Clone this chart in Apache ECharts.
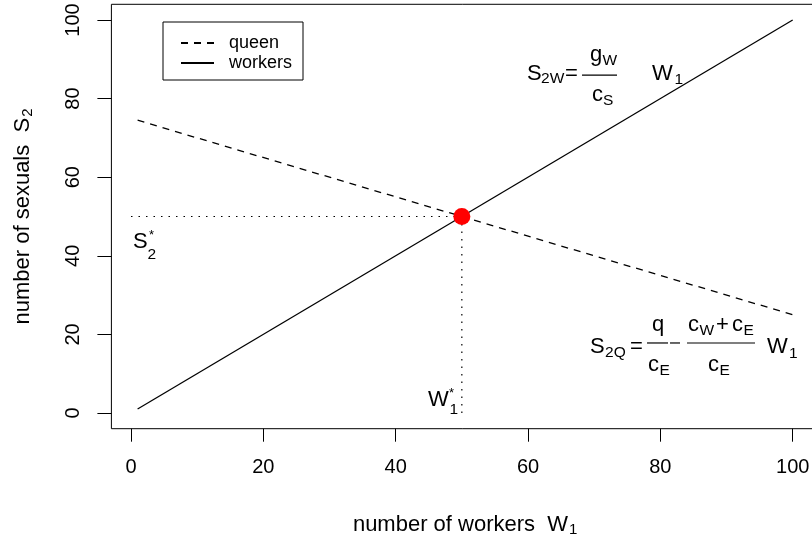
<!DOCTYPE html>
<html>
<head>
<meta charset="utf-8">
<script src="https://cdn.jsdelivr.net/npm/echarts@6/dist/echarts.min.js"></script>
<style>
  html, body { margin: 0; padding: 0; background: #ffffff; }
  #chart { width: 812px; height: 542px; }
</style>
</head>
<body>
<div id="chart"></div>
<script>
// Reproductive conflict: sexuals preferred by workers vs. by the queen
const workersW = [1, 100];
const workersS = [1, 100];
const queenW = [1, 100];
const queenS = [74.5, 25];
const equilibriumW = 50;
const equilibriumS = 50;
const xTicks = [0, 20, 40, 60, 80, 100];
const yTicks = [0, 20, 40, 60, 80, 100];
const seriesNames = ['queen', 'workers'];

const FONT = '"Liberation Sans", Arial, Helvetica, sans-serif';
const INK = '#000000';

const zip = (xs, ys) => xs.map((x, i) => [x, ys[i]]);

const chart = echarts.init(document.getElementById('chart'), null, { renderer: 'canvas' });

const titleRich = {
  t: { fontSize: 22, fontFamily: FONT, color: INK },
  s: { fontSize: 15, fontFamily: FONT, color: INK, padding: [10, 0, 0, 1] }
};

const option = {
  animation: false,
  backgroundColor: '#ffffff',
  grid: {
    left: 111.4, top: 4.3, width: 707.5, height: 424.4,
    containLabel: false, outerBoundsMode: 'none',
    show: true, borderColor: INK, borderWidth: 1, backgroundColor: 'transparent'
  },
  legend: {
    data: seriesNames,
    orient: 'vertical',
    left: 163, top: 22,
    borderColor: INK, borderWidth: 1, borderRadius: 0,
    padding: [12, 11, 8, 17],
    itemGap: 2, itemWidth: 33, itemHeight: 14,
    selectedMode: false,
    itemStyle: { opacity: 0 },
    textStyle: { fontSize: 18, fontFamily: FONT, color: INK, padding: [0, 0, 0, 10] }
  },
  xAxis: {
    type: 'value', min: -2.96, max: 103.96,
    axisLine: { show: false, onZero: false },
    splitLine: { show: false },
    axisTick: { show: true, length: 13, lineStyle: { color: INK, width: 1 }, customValues: xTicks },
    axisLabel: { customValues: xTicks, margin: 29, color: INK, fontSize: 20, fontFamily: FONT },
    name: '{t|number of workers  W}{s|1}',
    nameLocation: 'middle', nameGap: 84,
    nameTextStyle: { color: INK, fontFamily: FONT, fontSize: 22, rich: titleRich }
  },
  yAxis: {
    type: 'value', min: -4, max: 104,
    axisLine: { show: false, onZero: false },
    splitLine: { show: false },
    axisTick: { show: true, length: 14, lineStyle: { color: INK, width: 1 }, customValues: yTicks },
    axisLabel: { customValues: yTicks, rotate: 90, margin: 28, color: INK, fontSize: 20, fontFamily: FONT },
    name: '{t|number of sexuals  S}{s|2}',
    nameLocation: 'middle', nameGap: 76,
    nameTextStyle: { color: INK, fontFamily: FONT, fontSize: 22, rich: titleRich }
  },
  series: [
    {
      name: 'queen', type: 'line', silent: true, symbol: 'none',
      data: zip(queenW, queenS),
      itemStyle: { color: INK },
      lineStyle: { color: INK, width: 1.3, type: [7, 6] }
    },
    {
      name: 'workers', type: 'line', silent: true, symbol: 'none',
      data: zip(workersW, workersS),
      itemStyle: { color: INK },
      lineStyle: { color: INK, width: 1.3, type: 'solid' }
    },
    {
      name: 'S2 level', type: 'line', silent: true, symbol: 'none',
      data: [[0, equilibriumS], [equilibriumW, equilibriumS]],
      lineStyle: { color: INK, width: 1.2, type: [1.5, 6] }
    },
    {
      name: 'W1 level', type: 'line', silent: true, symbol: 'none',
      data: [[equilibriumW, equilibriumS], [equilibriumW, 0]],
      lineStyle: { color: INK, width: 1.2, type: [1.5, 6] }
    },
    {
      name: 'equilibrium', type: 'scatter', silent: true, z: 5,
      symbol: 'circle', symbolSize: 17,
      data: [[equilibriumW, equilibriumS]],
      itemStyle: { color: '#ff0000', opacity: 1, borderWidth: 0 }
    }
  ]
};

chart.setOption(option);

// ---- math annotations (plotmath-style), anchored in data coordinates ----
const M = 22;   // main glyph size
const S = 15.5; // sub/superscript size

function glyph(ax, ay, dx, dy, text, size) {
  // dy is a baseline offset; zrender places text by its middle line
  return {
    type: 'text', silent: true,
    x: ax + dx, y: ay + dy - 0.35 * size,
    style: { text: text, font: size + 'px ' + FONT, fill: INK, align: 'left', verticalAlign: 'middle' }
  };
}
function rule(ax, ay, dx1, dx2, dy) {
  return {
    type: 'line', silent: true,
    shape: { x1: ax + dx1, y1: ay + dy, x2: ax + dx2, y2: ay + dy },
    style: { stroke: INK, lineWidth: 1.2 }
  };
}

const toPx = (x, y) => chart.convertToPixel({ gridIndex: 0 }, [x, y]);

const e1 = toPx(59.85, 84.2);    // S_2W = g_W / c_S  W_1
const e2 = toPx(69.37, 14.76);   // S_2Q = q/c_E - (c_W + c_E)/c_E  W_1
const s2 = toPx(0.3, 41.5);      // S_2^*
const w1 = toPx(44.88, 1.27);    // W_1^*

const g = [];
// S_2W = g_W / c_S  W_1
g.push(glyph(e1[0], e1[1], 0, 0, 'S', M));
g.push(glyph(e1[0], e1[1], 14, 2.5, '2W', S));
g.push(glyph(e1[0], e1[1], 38, 0, '=', M));
g.push(rule(e1[0], e1[1], 55, 90, -7));
g.push(glyph(e1[0], e1[1], 63, -19, 'g', M));
g.push(glyph(e1[0], e1[1], 75.5, -15.5, 'W', S));
g.push(glyph(e1[0], e1[1], 65, 21, 'c', M));
g.push(glyph(e1[0], e1[1], 76, 24.5, 'S', S));
g.push(glyph(e1[0], e1[1], 125, 0, 'W', M));
g.push(glyph(e1[0], e1[1], 147.5, 3, '1', S));

// S_2Q = q/c_E - (c_W + c_E)/c_E  W_1
g.push(glyph(e2[0], e2[1], 0, 0, 'S', M));
g.push(glyph(e2[0], e2[1], 15, 3, '2Q', S));
g.push(glyph(e2[0], e2[1], 40, 0, '=', M));
g.push(rule(e2[0], e2[1], 57, 78, -12));
g.push(glyph(e2[0], e2[1], 62, -22, 'q', M));
g.push(glyph(e2[0], e2[1], 58, 18, 'c', M));
g.push(glyph(e2[0], e2[1], 69.5, 21, 'E', S));
g.push(rule(e2[0], e2[1], 80, 90, -12));
g.push(rule(e2[0], e2[1], 97, 165, -12));
g.push(glyph(e2[0], e2[1], 98, -22, 'c', M));
g.push(glyph(e2[0], e2[1], 109.5, -18.5, 'W', S));
g.push(glyph(e2[0], e2[1], 126, -22, '+', M));
g.push(glyph(e2[0], e2[1], 142, -22, 'c', M));
g.push(glyph(e2[0], e2[1], 153.5, -18.5, 'E', S));
g.push(glyph(e2[0], e2[1], 118, 18, 'c', M));
g.push(glyph(e2[0], e2[1], 129.5, 21, 'E', S));
g.push(glyph(e2[0], e2[1], 177, 0, 'W', M));
g.push(glyph(e2[0], e2[1], 199, 4, '1', S));

// S_2^*
g.push(glyph(s2[0], s2[1], 0, 0, 'S', M));
g.push(glyph(s2[0], s2[1], 14.5, 10, '2', S));
g.push(glyph(s2[0], s2[1], 16, -10, '*', 13));

// W_1^*
g.push(glyph(w1[0], w1[1], 0, 0, 'W', M));
g.push(glyph(w1[0], w1[1], 21.5, 7, '1', S));
g.push(glyph(w1[0], w1[1], 21, -10, '*', 13));

chart.setOption({ graphic: g });
</script>
</body>
</html>
